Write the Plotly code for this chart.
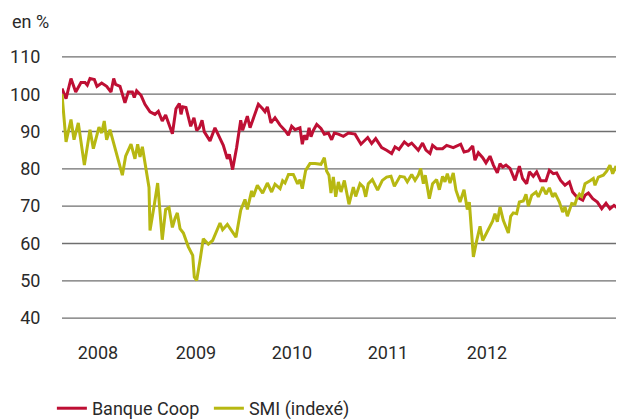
import plotly.graph_objects as go

# x values: years elapsed since 1 Jan 2008
coop_t = [0.000,0.036,0.080,0.122,0.169,0.205,0.225,0.249,0.288,0.311,0.353,0.397,0.436,0.460,0.477,0.516,0.560,0.590,0.626,0.643,0.664,0.703,0.738,0.783,0.827,0.857,0.892,0.922,0.982,
          1.014,1.044,1.059,1.074,1.103,1.145,1.174,1.198,1.222,1.246,1.266,1.317,1.361,1.435,1.471,1.489,1.518,1.554,1.590,1.607,1.649,1.673,1.717,1.747,1.785,1.806,1.827,1.859,1.895,1.940,1.984,
          2.014,2.043,2.073,2.117,2.138,2.156,2.177,2.198,2.215,2.236,2.266,2.304,2.334,2.370,2.399,2.423,2.459,2.503,2.548,2.607,2.660,2.720,2.755,2.791,2.844,2.888,2.933,2.963,2.998,3.046,
          3.081,3.111,3.149,3.170,3.208,3.238,3.274,3.297,3.333,3.386,3.422,3.481,3.547,3.577,3.615,3.654,3.674,3.704,3.743,3.772,3.808,3.838,3.873,3.897,3.921,3.950,3.986,4.030,4.069,
          4.098,4.134,4.158,4.193,4.223,4.259,4.306,4.336,4.371,4.401,4.436,4.475,4.514,4.543,4.579,4.609,4.633,4.653,4.683,4.722,4.763,4.802,4.840,4.875,4.911,4.950,4.979,5.000]
coop_val = [101.5,98.8,104.2,100.6,103.1,103.1,102.4,104.2,103.9,102.1,103.0,102.1,100.6,104.2,102.6,102.1,97.7,100.6,100.6,99.1,100.9,99.7,97.3,95.3,94.6,95.4,92.8,94.4,89.4,
            96.1,97.5,94.6,96.6,96.4,91.4,93.7,90.3,91.0,93.0,89.9,87.5,91.0,86.3,82.7,83.9,79.8,85.8,93.0,90.3,94.1,91.0,94.8,97.3,96.1,95.3,96.6,92.3,93.7,91.7,90.3,
            89.0,91.4,90.5,91.0,86.6,89.0,87.8,91.0,88.6,90.3,91.9,90.8,89.3,89.6,87.8,89.6,89.3,88.7,89.6,89.3,86.6,88.4,86.8,88.1,85.7,85.0,84.1,85.9,85.2,87.2,
            86.3,86.9,85.7,85.0,86.9,85.0,84.1,86.3,85.4,85.4,86.3,85.7,86.6,84.5,84.8,86.1,82.3,84.3,83.0,81.6,83.4,81.0,78.9,81.4,80.5,81.0,80.1,76.9,80.7,
            77.4,76.0,79.2,78.0,79.2,76.8,76.8,79.6,78.7,78.9,76.9,75.6,76.5,73.8,72.5,72.0,71.6,72.9,73.5,72.0,71.1,69.3,70.8,69.3,70.2,69.3,66.7,68.2]

smi_t = [0.000,0.036,0.080,0.107,0.145,0.199,0.249,0.279,0.329,0.353,0.376,0.397,0.427,0.486,0.537,0.566,0.614,0.649,0.673,0.694,0.715,0.774,0.783,0.822,0.851,0.892,0.922,0.952,0.982,
         1.005,1.026,1.050,1.080,1.124,1.163,1.177,1.198,1.228,1.257,1.302,1.340,1.406,1.429,1.471,1.548,1.590,1.628,1.649,1.687,1.702,1.738,1.785,1.827,1.865,1.895,1.940,1.963,1.984,
         2.015,2.058,2.096,2.117,2.138,2.168,2.206,2.251,2.304,2.334,2.354,2.375,2.393,2.414,2.435,2.459,2.482,2.512,2.553,2.592,2.613,2.651,2.681,2.702,2.725,2.761,2.808,2.850,2.888,2.927,2.957,3.007,3.046,
         3.072,3.111,3.141,3.170,3.191,3.215,3.232,3.268,3.297,3.333,3.357,3.386,3.407,3.428,3.452,3.481,3.505,3.541,3.577,3.606,3.624,3.660,3.689,3.719,3.743,3.784,3.831,3.852,3.873,3.897,3.926,3.971,3.992,4.015,4.045,4.069,
         4.104,4.128,4.149,4.179,4.217,4.238,4.277,4.306,4.336,4.365,4.386,4.425,4.454,4.475,4.496,4.535,4.564,4.579,4.603,4.624,4.653,4.698,4.727,4.742,4.772,4.816,4.846,4.875,4.899,4.929,4.959,4.994]
smi_val = [100.0,87.2,93.2,87.8,92.3,81.0,90.5,85.4,91.2,89.6,92.8,87.8,90.5,84.1,78.3,83.4,86.6,82.7,86.6,83.2,85.9,75.0,63.5,70.5,76.2,61.0,69.1,69.6,64.3,
           66.7,68.2,64.0,62.8,59.1,56.8,51.0,50.1,55.5,61.3,59.8,60.8,65.5,63.7,65.1,61.7,68.9,71.8,69.1,74.1,72.5,75.6,73.5,76.2,73.8,75.9,74.7,76.8,76.2,
           78.5,78.5,76.0,77.1,74.7,79.6,81.4,81.4,81.2,83.0,79.4,78.3,73.5,77.8,72.5,76.5,73.8,76.9,70.5,75.1,72.6,76.0,75.1,72.5,76.0,77.1,74.3,76.9,77.8,78.0,75.3,78.0,77.8,
           76.5,78.5,76.9,78.3,80.1,76.0,78.3,72.0,76.0,77.1,74.4,78.0,76.5,78.7,76.2,78.9,74.3,71.1,74.4,69.1,71.1,56.4,60.7,64.6,60.8,63.1,66.0,68.0,65.8,69.8,66.2,62.8,67.3,68.2,68.0,71.1,
           71.4,73.2,70.0,72.9,73.8,72.5,75.1,73.2,74.9,72.5,73.5,71.1,68.4,69.8,67.3,70.7,70.5,72.0,73.2,72.6,76.0,76.8,77.4,75.6,77.8,78.3,79.4,81.0,78.7,80.7,77.6,81.0]

tick_pos = [0.320, 1.192, 2.046, 2.900, 3.781]
tick_labels = ["2008", "2009", "2010", "2011", "2012"]
y_ticks = [40, 50, 60, 70, 80, 90, 100, 110]

assert len(coop_t) == len(coop_val)
assert len(smi_t) == len(smi_val)

BASE = 2008
RED = "#BE0F34"
OLIVE = "#B7B812"
FONT = "Roboto"
FS = 18
TXT = "#2a2a2a"
GRID = "#6f6f6f"

fig = go.Figure()
fig.add_trace(go.Scatter(x=[BASE + t for t in coop_t], y=coop_val, mode="lines",
                         name="Banque Coop", line=dict(color=RED, width=3)))
fig.add_trace(go.Scatter(x=[BASE + t for t in smi_t], y=smi_val, mode="lines",
                         name="SMI (indexé)", line=dict(color=OLIVE, width=3)))

# horizontal grid lines at every y tick (shapes, so the edge ones are drawn too)
for v in y_ticks:
    fig.add_shape(type="line", xref="x", yref="y", x0=BASE, x1=BASE + 5, y0=v, y1=v,
                  line=dict(color=GRID, width=1.3), layer="between")

# the page body has an 8px margin, so the figure is sized to fill the rest of the window
fig.update_layout(
    width=616, height=411,
    margin=dict(l=54, r=0, t=47, b=99, autoexpand=False),
    paper_bgcolor="white", plot_bgcolor="white",
    font=dict(family=FONT, size=FS, color=TXT),
    showlegend=True,
    legend=dict(orientation="h", x=-0.018, xanchor="left", y=-0.334, yanchor="middle",
                font=dict(family=FONT, size=FS, color=TXT), entrywidth=112,
                bgcolor="rgba(0,0,0,0)", itemwidth=30),
    xaxis=dict(range=[BASE, BASE + 5], showgrid=False, zeroline=False, showline=False,
               tickmode="array", tickvals=[BASE + p for p in tick_pos], ticktext=tick_labels,
               ticks="outside", ticklen=16, tickcolor="rgba(0,0,0,0)",
               tickfont=dict(family=FONT, size=FS, color=TXT)),
    yaxis=dict(range=[39.5, 110.5], showgrid=False,
               zeroline=False, showline=False, tickmode="array", tickvals=y_ticks,
               ticks="outside", ticklen=17, tickcolor="rgba(0,0,0,0)",
               tickfont=dict(family=FONT, size=FS, color=TXT)),
    annotations=[dict(text="en %", xref="paper", yref="paper", x=(2 - 54) / 562, y=1.128,
                      xanchor="left", yanchor="middle", showarrow=False,
                      font=dict(family=FONT, size=FS, color=TXT))],
)

fig.write_html("out.html")
